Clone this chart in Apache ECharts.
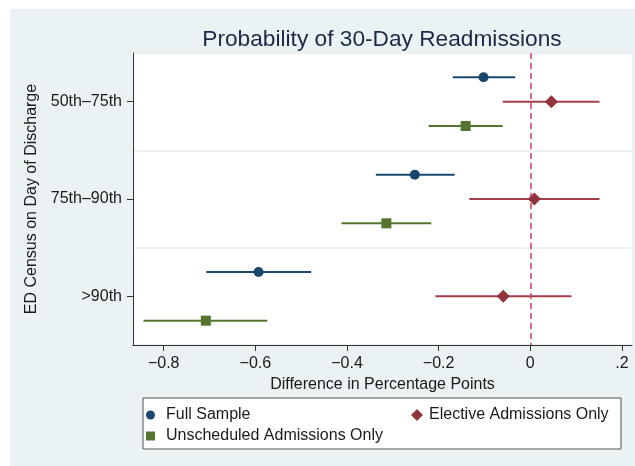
<!DOCTYPE html>
<html>
<head>
<meta charset="utf-8">
<script src="https://cdn.jsdelivr.net/npm/echarts@6/dist/echarts.min.js"></script>
<style>
html, body { margin: 0; padding: 0; background: #ffffff; }
#chart { width: 635px; height: 466px; }
</style>
</head>
<body>
<div id="chart"></div>
<script>
// categories, top to bottom
var categories = ['50th\u201375th', '75th\u201390th', '>90th'];
var tickValues = [-0.8, -0.6, -0.4, -0.2, 0, 0.2];
var tickLabels = ['\u22120.8', '\u22120.6', '\u22120.4', '\u22120.2', '0', '.2'];

// point estimates and CI bounds, one per category
var fullEst = [-0.102, -0.252, -0.593];
var fullLo = [-0.169, -0.337, -0.707];
var fullHi = [-0.033, -0.165, -0.478];

var electiveEst = [0.046, 0.009, -0.059];
var electiveLo = [-0.060, -0.133, -0.207];
var electiveHi = [0.151, 0.151, 0.090];

var unschedEst = [-0.141, -0.314, -0.708];
var unschedLo = [-0.222, -0.412, -0.844];
var unschedHi = [-0.060, -0.216, -0.574];

var FONT = 'Liberation Sans, Arial, sans-serif';

function points(est, off) {
	var d = [];
	for (var i = 0; i < est.length; i++) {
		d.push([est[i], i + off]);
	}
	return d;
}
function bars(lo, hi, off) {
	var d = [];
	for (var i = 0; i < lo.length; i++) {
		d.push([lo[i], hi[i], i + off]);
	}
	return d;
}
function ciSeries(lo, hi, off, color) {
	return {
		type: 'custom',
		xAxisIndex: 0,
		yAxisIndex: 1,
		silent: true,
		z: 3,
		data: bars(lo, hi, off),
		encode: { x: [0, 1], y: 2 },
		renderItem: function (params, api) {
			var a = api.coord([api.value(0), api.value(2)]);
			var b = api.coord([api.value(1), api.value(2)]);
			return {
				type: 'line',
				shape: { x1: a[0], y1: a[1], x2: b[0], y2: b[1] },
				style: { stroke: color, lineWidth: 2 }
			};
		}
	};
}

var chart = echarts.init(document.getElementById('chart'));
var option = {
	animation: false,
	backgroundColor: '#ffffff',
	textStyle: { fontFamily: FONT },
	graphic: [{
		type: 'rect',
		z: -10,
		shape: { x: 10, y: 9, width: 625, height: 457 },
		style: { fill: '#eaf2f3' }
	}, {
		type: 'text',
		x: 382,
		y: 40,
		style: {
			text: 'Probability of 30-Day Readmissions',
			font: '22.7px ' + FONT,
			fill: '#1c2a47',
			textAlign: 'center',
			textVerticalAlign: 'middle'
		}
	}, {
		type: 'rect',
		shape: { x: 143, y: 398, width: 478, height: 51 },
		style: { fill: '#ffffff', stroke: '#555555', lineWidth: 1 }
	}],
	grid: {
		left: 133,
		right: 3,
		top: 53,
		bottom: 121,
		show: true,
		backgroundColor: '#ffffff',
		borderWidth: 0
	},
	legend: [{
		left: 146, top: 407, padding: 0, itemWidth: 9, itemHeight: 9, itemGap: 0,
		textStyle: { fontSize: 16, color: '#1a1a1a', fontFamily: FONT, padding: [0, 0, 0, 6] },
		data: [{ name: 'Full Sample', icon: 'circle' }]
	}, {
		left: 411, top: 407, padding: 0, itemWidth: 12, itemHeight: 12, itemGap: 0,
		textStyle: { fontSize: 16, color: '#1a1a1a', fontFamily: FONT, padding: [0, 0, 0, 1] },
		data: [{ name: 'Elective Admissions Only', icon: 'diamond' }]
	}, {
		left: 146, top: 428, padding: 0, itemWidth: 9, itemHeight: 9, itemGap: 0,
		textStyle: { fontSize: 16, color: '#1a1a1a', fontFamily: FONT, padding: [0, 0, 0, 6] },
		data: [{ name: 'Unscheduled Admissions Only', icon: 'rect' }]
	}],
	xAxis: {
		type: 'value',
		min: -0.867,
		max: 0.222,
		name: 'Difference in Percentage Points',
		nameLocation: 'middle',
		nameGap: 27,
		nameTextStyle: { fontSize: 16, color: '#1a1a1a', fontFamily: FONT },
		axisLine: { show: true, onZero: false, lineStyle: { color: '#333333', width: 1 } },
		axisTick: { show: true, length: 6, customValues: tickValues, lineStyle: { color: '#333333' } },
		axisLabel: {
			fontSize: 16, color: '#1a1a1a', margin: 11, fontFamily: FONT,
			customValues: tickValues,
			formatter: function (v) {
				for (var i = 0; i < tickValues.length; i++) {
					if (Math.abs(tickValues[i] - v) < 1e-6) return tickLabels[i];
				}
				return '';
			}
		},
		splitLine: { show: false }
	},
	yAxis: [{
		type: 'category',
		data: categories,
		inverse: true,
		name: 'ED Census on Day of Discharge',
		nameLocation: 'middle',
		nameGap: 92,
		nameTextStyle: { fontSize: 16, color: '#1a1a1a', fontFamily: FONT },
		axisLine: { show: true, onZero: false, lineStyle: { color: '#333333', width: 1 } },
		axisTick: { show: true, length: 6, alignWithLabel: true, lineStyle: { color: '#333333' } },
		axisLabel: { fontSize: 16, color: '#1a1a1a', margin: 11, fontFamily: FONT },
		splitLine: { show: true, lineStyle: { color: '#e6eef0', width: 1.5 } }
	}, {
		type: 'value',
		min: 0,
		max: 3,
		inverse: true,
		show: false
	}],
	series: [
		ciSeries(fullLo, fullHi, 0.25, '#1a476f'),
		ciSeries(electiveLo, electiveHi, 0.5, '#a23d4a'),
		ciSeries(unschedLo, unschedHi, 0.75, '#55752f'),
		{
			name: 'Full Sample',
			type: 'scatter',
			yAxisIndex: 1,
			symbol: 'circle',
			symbolSize: 10,
			z: 5,
			itemStyle: { color: '#1a476f', opacity: 1 },
			data: points(fullEst, 0.25),
			markLine: {
				silent: true,
				symbol: 'none',
				label: { show: false },
				lineStyle: { color: '#cc3a5c', type: [6, 4], width: 1.5 },
				data: [{ xAxis: 0 }]
			}
		}, {
			name: 'Elective Admissions Only',
			type: 'scatter',
			yAxisIndex: 1,
			symbol: 'diamond',
			symbolSize: 13,
			z: 5,
			itemStyle: { color: '#90353b', opacity: 1 },
			data: points(electiveEst, 0.5)
		}, {
			name: 'Unscheduled Admissions Only',
			type: 'scatter',
			yAxisIndex: 1,
			symbol: 'rect',
			symbolSize: 10,
			z: 5,
			itemStyle: { color: '#55752f', opacity: 1 },
			data: points(unschedEst, 0.75)
		}
	]
};
chart.setOption(option);
</script>
</body>
</html>
